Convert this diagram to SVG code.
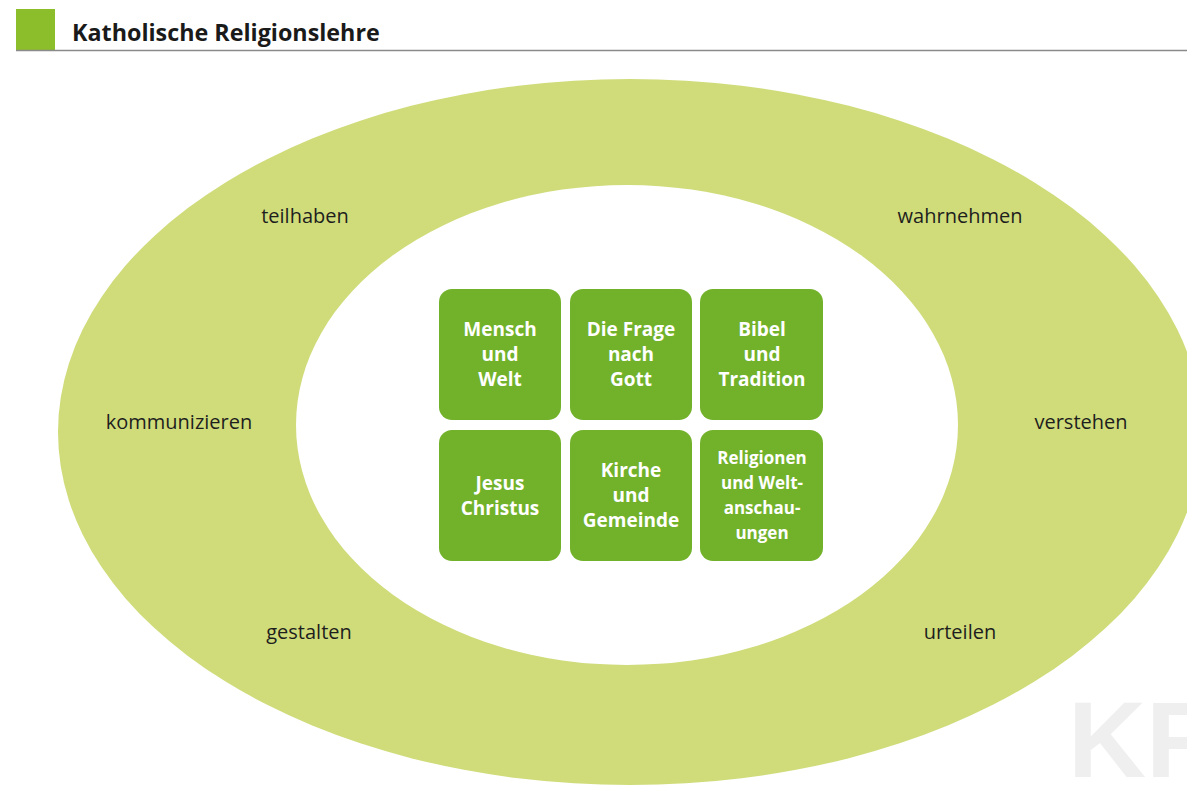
<svg xmlns="http://www.w3.org/2000/svg" width="1187" height="809" viewBox="0 0 1187 809">
<style>
.ring{font-family:"Open Sans","Noto Sans",sans-serif;font-size:20px;fill:#1e1e1e;text-anchor:middle}
.box{fill:#72b22a}
.bt{font-family:"Open Sans","Noto Sans",sans-serif;font-size:19px;font-weight:bold;fill:#ffffff;text-anchor:middle}
.bt2{font-family:"Open Sans","Noto Sans",sans-serif;font-size:17px;font-weight:bold;fill:#ffffff;text-anchor:middle}
</style>
<rect x="0" y="0" width="1187" height="809" fill="#ffffff"/>
<g id="header">
<rect x="16" y="9" width="39" height="41" fill="#8cbd2a"/>
<line x1="16" y1="50.5" x2="1187" y2="50.5" stroke="#8a8a8a" stroke-width="1.5"/>
<text x="72" y="41" font-family="Open Sans,Noto Sans,sans-serif" font-size="23.3" font-weight="bold" fill="#1a1a1a">Katholische Religionslehre</text>
</g>
<text x="1068" y="777" font-family="Liberation Sans,Arial,sans-serif" font-size="108" font-weight="bold" fill="#efefef">KR</text>
<g id="rings">
<ellipse cx="630" cy="432" rx="572" ry="353" fill="#d0dc7a"/>
<ellipse cx="627" cy="425" rx="331" ry="240" fill="#ffffff"/>
</g>
<g id="labels">
<text class="ring" x="305" y="223">teilhaben</text>
<text class="ring" x="960" y="223">wahrnehmen</text>
<text class="ring" x="179" y="429">kommunizieren</text>
<text class="ring" x="1081" y="429">verstehen</text>
<text class="ring" x="309" y="639">gestalten</text>
<text class="ring" x="960" y="639">urteilen</text>
</g>
<g id="box-mensch">
<rect class="box" x="439" y="289" width="122" height="131" rx="13"/>
<text class="bt" x="500" y="336">Mensch</text>
<text class="bt" x="500" y="361">und</text>
<text class="bt" x="500" y="386">Welt</text>
</g>
<g id="box-gott">
<rect class="box" x="570" y="289" width="122" height="131" rx="13"/>
<text class="bt" x="631" y="336">Die Frage</text>
<text class="bt" x="631" y="361">nach</text>
<text class="bt" x="631" y="386">Gott</text>
</g>
<g id="box-bibel">
<rect class="box" x="700" y="289" width="123" height="131" rx="13"/>
<text class="bt" x="762" y="336">Bibel</text>
<text class="bt" x="762" y="361">und</text>
<text class="bt" x="762" y="386">Tradition</text>
</g>
<g id="box-jesus">
<rect class="box" x="439" y="430" width="122" height="131" rx="13"/>
<text class="bt" x="500" y="490">Jesus</text>
<text class="bt" x="500" y="515">Christus</text>
</g>
<g id="box-kirche">
<rect class="box" x="570" y="430" width="122" height="131" rx="13"/>
<text class="bt" x="631" y="477">Kirche</text>
<text class="bt" x="631" y="502">und</text>
<text class="bt" x="631" y="527">Gemeinde</text>
</g>
<g id="box-religionen">
<rect class="box" x="700" y="430" width="123" height="131" rx="13"/>
<text class="bt2" x="762" y="464">Religionen</text>
<text class="bt2" x="762" y="489">und Welt-</text>
<text class="bt2" x="762" y="514">anschau-</text>
<text class="bt2" x="762" y="539">ungen</text>
</g>
<g id="connectors"></g>
</svg>
